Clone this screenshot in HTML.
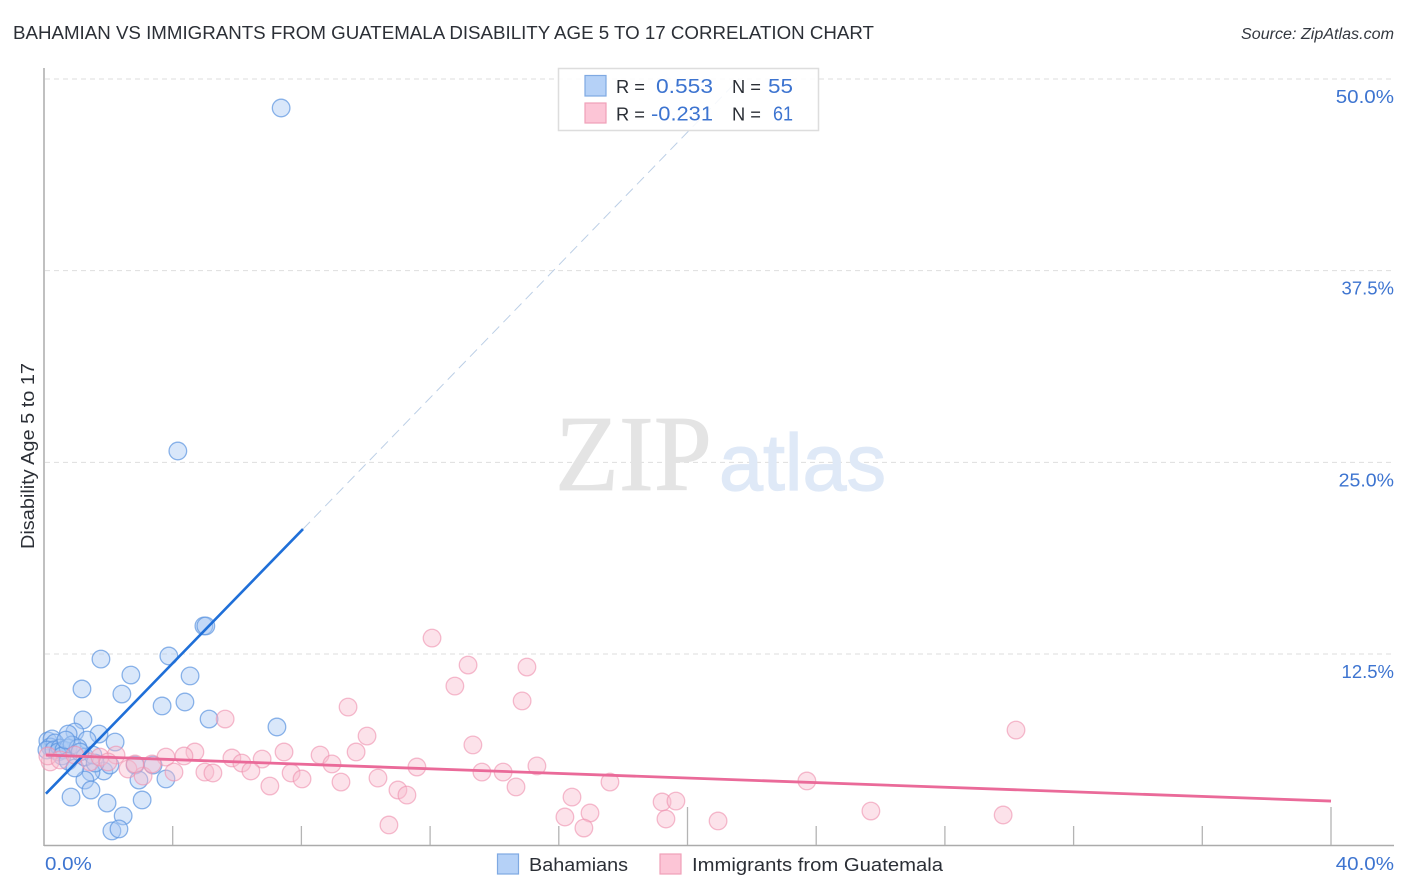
<!DOCTYPE html>
<html lang="en">
<head>
<meta charset="utf-8">
<title>Bahamian vs Immigrants from Guatemala Disability Age 5 to 17 Correlation Chart</title>
<style>
html,body{margin:0;padding:0;background:#fff;}
svg{display:block;font-family:"Liberation Sans",sans-serif;}
</style>
</head>
<body>
<svg id="chart" width="1406" height="892" viewBox="0 0 1406 892" xmlns="http://www.w3.org/2000/svg">
  <rect x="0" y="0" width="1406" height="892" fill="#ffffff"/>
  <text x="13" y="39" font-size="18.5" fill="#2b2f36" textLength="861" lengthAdjust="spacingAndGlyphs">BAHAMIAN VS IMMIGRANTS FROM GUATEMALA DISABILITY AGE 5 TO 17 CORRELATION CHART</text>
  <text x="1241" y="39" font-size="15.5" font-style="italic" fill="#333840" textLength="153" lengthAdjust="spacingAndGlyphs">Source: ZipAtlas.com</text>
  <g id="grid"></g>
  <text x="555" y="490" font-family="'Liberation Serif',serif" font-size="108" fill="#e4e4e4" stroke="#e4e4e4" stroke-width="0.8" textLength="157" lengthAdjust="spacingAndGlyphs">ZIP</text>
  <text x="719" y="490" font-size="80" fill="#dfe9f7" stroke="#dfe9f7" stroke-width="1.2" textLength="167" lengthAdjust="spacingAndGlyphs">atlas</text>
  <g id="axes"></g>
  <text transform="translate(34,549) rotate(-90)" font-size="18" fill="#2b2f36" textLength="186" lengthAdjust="spacingAndGlyphs">Disability Age 5 to 17</text>
  <g id="points-blue"></g>
  <g id="points-pink"></g>
  <g id="trends"></g>
  <g id="labels"></g>

  <g>
    <rect x="558.5" y="68.5" width="260" height="62" fill="#ffffff" fill-opacity="0.86" stroke="#dddddd" stroke-width="1.5"/>
    <rect x="585" y="75.5" width="21" height="20.5" fill="#b5d1f7" stroke="#7fa9e2" stroke-width="1.2"/>
    <rect x="585" y="103" width="21" height="20" fill="#fcc5d6" stroke="#f0a0b8" stroke-width="1.2"/>
    <text x="616" y="93" font-size="18" fill="#2b2f36" textLength="29" lengthAdjust="spacingAndGlyphs">R =</text>
    <text x="656" y="93" font-size="20" fill="#3d74d0" textLength="57" lengthAdjust="spacingAndGlyphs">0.553</text>
    <text x="732" y="93" font-size="18" fill="#2b2f36" textLength="29" lengthAdjust="spacingAndGlyphs">N =</text>
    <text x="768" y="93" font-size="20" fill="#3d74d0" textLength="25" lengthAdjust="spacingAndGlyphs">55</text>
    <text x="616" y="120.5" font-size="18" fill="#2b2f36" textLength="29" lengthAdjust="spacingAndGlyphs">R =</text>
    <text x="651" y="120.5" font-size="20" fill="#3d74d0" textLength="62" lengthAdjust="spacingAndGlyphs">-0.231</text>
    <text x="732" y="120.5" font-size="18" fill="#2b2f36" textLength="29" lengthAdjust="spacingAndGlyphs">N =</text>
    <text x="773" y="120.5" font-size="20" fill="#3d74d0" textLength="20" lengthAdjust="spacingAndGlyphs">61</text>
  </g>

  <g>
    <g>
      <rect x="497.5" y="854" width="21" height="20" fill="#b5d1f7" stroke="#7fa9e2" stroke-width="1.2"/>
      <text x="529" y="871" font-size="18" fill="#2b2f36" textLength="99" lengthAdjust="spacingAndGlyphs">Bahamians</text>
    </g>
    <g>
      <rect x="660" y="854" width="21" height="20" fill="#fcc5d6" stroke="#f0a0b8" stroke-width="1.2"/>
      <text x="692" y="871" font-size="18" fill="#2b2f36" textLength="251" lengthAdjust="spacingAndGlyphs">Immigrants from Guatemala</text>
    </g>
  </g>
</svg>

<script>
// Data (percent units)
const xTickValues = [0, 4, 8, 12, 16, 20, 24, 28, 32, 36, 40];
const xMajorTicks = [0, 20, 40];
const xLabelValues = [0, 40];
const xLabelTexts = ["0.0%", "40.0%"];
const yTickValues = [12.5, 25, 37.5, 50];
const yTickLabels = ["12.5%", "25.0%", "37.5%", "50.0%"];

const blueX = [7.37,4.16,4.97,5.03,1.77,3.88,2.70,4.54,1.18,2.42,3.67,4.38,5.13,7.24,1.21,1.71,0.96,0.75,2.21,1.34,2.83,3.39,3.79,2.95,1.86,2.05,1.46,1.27,1.46,0.84,1.96,3.05,2.46,2.11,2.33,0.12,0.25,0.19,0.34,0.09,0.31,0.50,0.44,0.62,0.75,0.87,1.06,0.56,0.75,0.96,1.27,1.52,1.59,1.12,0.68];
const blueY = [48.11,25.74,14.33,14.33,12.17,12.37,11.13,11.07,10.22,9.89,9.11,9.37,8.26,7.74,8.20,7.28,7.41,7.28,6.76,6.89,5.26,5.26,4.35,4.28,4.87,5.26,4.80,4.28,3.63,3.17,2.78,2.98,1.94,0.96,1.09,6.83,6.96,6.44,6.70,6.24,6.24,6.37,6.11,6.24,6.37,6.57,6.37,5.85,5.52,5.07,5.78,5.91,5.39,6.11,6.89];
const pinkX = [12.06,13.18,15.01,12.77,14.86,9.45,5.63,30.21,10.04,13.33,7.46,4.69,9.70,8.58,3.79,4.35,5.84,6.78,2.24,6.15,8.95,11.59,15.32,6.43,7.68,5.00,5.25,4.04,2.61,3.08,3.36,10.38,8.02,9.23,13.61,14.27,14.67,7.02,11.00,11.28,17.59,23.71,16.41,19.21,19.64,16.97,16.19,19.33,20.95,25.70,29.81,10.72,16.78,2.83,0.19,0.12,0.50,0.96,1.43,1.74,1.99];
const pinkY = [13.54,11.78,11.65,10.41,9.44,9.04,8.26,7.54,7.15,6.57,6.11,6.11,6.11,5.91,5.78,5.85,5.72,5.65,5.91,5.39,5.33,5.13,5.20,4.87,4.74,4.80,4.74,4.80,5.00,4.54,5.33,4.41,4.35,4.15,4.80,4.80,3.83,3.89,3.63,3.30,4.15,4.22,3.17,2.85,2.91,2.13,1.87,1.74,1.61,2.26,2.00,1.35,1.15,5.33,5.46,5.85,5.59,5.91,5.46,5.78,5.46];

const blueTrendSolidX = [0.06, 8.05];
const blueTrendSolidY = [3.39, 20.65];
const blueTrendDashX = [8.05, 21.6];
const blueTrendDashY = [20.65, 50];
const pinkTrendX = [0.06, 40];
const pinkTrendY = [5.91, 2.91];

// Axis functions
const xScale = v => 44 + v * 32.175;
const yScale = v => 845.67 - v * 15.333;
const NS = "http://www.w3.org/2000/svg";

function make(tag, attrs, parent) {
  const el = document.createElementNS(NS, tag);
  for (const k in attrs) el.setAttribute(k, attrs[k]);
  parent.appendChild(el);
  return el;
}

// The reference font has wider zeros than Liberation Sans.
function widenZeros(t) {
  const zeros = t.textContent.split("0").length - 1;
  const w = t.getComputedTextLength() * (1 + 0.055 * zeros);
  t.setAttribute("textLength", w);
  t.setAttribute("lengthAdjust", "spacingAndGlyphs");
}

const grid = document.getElementById("grid");
yTickValues.forEach(v => {
  const line = make("line", {x1: 45, x2: 1394, y1: yScale(v), y2: yScale(v), stroke: "#dedede", "stroke-width": 1, "stroke-dasharray": "5 4"}, grid);
  
  
});

const axes = document.getElementById("axes");
const yAxisLine = make("line", {x1: 44, x2: 44, y1: 68, y2: 846, stroke: "#ababab", "stroke-width": 1.5}, axes);


const xAxisLine = make("line", {x1: 44, x2: 1394, y1: 845.5, y2: 845.5, stroke: "#ababab", "stroke-width": 1.5}, axes);


xTickValues.forEach(v => {
  const top = xMajorTicks.includes(v) ? 807 : 826;
  const tick = make("line", {x1: xScale(v), x2: xScale(v), y1: top, y2: 845, stroke: "#b4b4b4", "stroke-width": 1.3}, axes);
  
  
});

function drawPoints(xs, ys, groupId, fill, stroke, strokeOpacity, name) {
  const g = document.getElementById(groupId);
  xs.forEach((x, i) => {
    const c = make("circle", {cx: xScale(x), cy: yScale(ys[i]), r: 8.8, fill: fill, "fill-opacity": 0.44, stroke: stroke, "stroke-opacity": strokeOpacity, "stroke-width": 1.3}, g);
    
    
  });
}
drawPoints(blueX, blueY, "points-blue", "#a9c8f4", "#5b94e0", 0.7, "bahamians-point");
drawPoints(pinkX, pinkY, "points-pink", "#f9bccf", "#ee8fae", 0.6, "guatemala-point");

const trends = document.getElementById("trends");
const blueDash = make("line", {x1: xScale(blueTrendDashX[0]), y1: yScale(blueTrendDashY[0]), x2: xScale(blueTrendDashX[1]), y2: yScale(blueTrendDashY[1]), stroke: "#bccfe6", "stroke-width": 1, "stroke-dasharray": "10 6"}, trends);


const blueSolid = make("line", {x1: xScale(blueTrendSolidX[0]), y1: yScale(blueTrendSolidY[0]), x2: xScale(blueTrendSolidX[1]), y2: yScale(blueTrendSolidY[1]), stroke: "#1f6fd8", "stroke-width": 2.6}, trends);


const pinkLine = make("line", {x1: xScale(pinkTrendX[0]), y1: yScale(pinkTrendY[0]), x2: xScale(pinkTrendX[1]), y2: yScale(pinkTrendY[1]), stroke: "#ea6a99", "stroke-width": 2.8}, trends);



const labels = document.getElementById("labels");
yTickValues.forEach((v, i) => {
  const t = make("text", {x: 1394, y: yScale(v) + 24, "text-anchor": "end", "font-size": 18.5, fill: "#3d74d0"}, labels);
  t.textContent = yTickLabels[i];
  
  
  widenZeros(t);
});
xLabelValues.forEach((v, i) => {
  const px = xScale(v);
  const t = make("text", {x: i === 0 ? px + 1 : 1394, y: 870, "text-anchor": i === 0 ? "start" : "end", "font-size": 18.5, fill: "#3d74d0"}, labels);
  t.textContent = xLabelTexts[i];
  
  
  widenZeros(t);
});
</script>
</body>
</html>
